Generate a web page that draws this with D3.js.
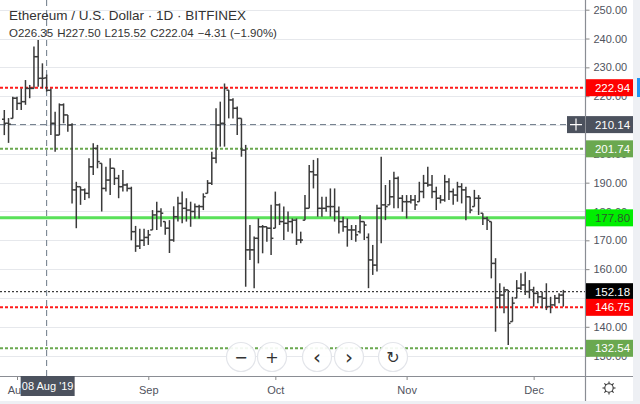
<!DOCTYPE html>
<html><head><meta charset="utf-8">
<script src="https://cdn.jsdelivr.net/npm/d3@7/dist/d3.min.js"></script>
<style>body{margin:0;background:#fff;overflow:hidden}svg{display:block}</style>
</head><body><svg id="c" width="640" height="404"></svg>
<script>
// ---------- data ----------
const startDate = "2019-07-29";
const opens = [212.0,210.6,212.3,219.3,217.5,218.1,222.7,222.7,233.7,226.2,226.35,222.04,210.6,206.5,217.0,213.5,210.0,187.5,188.6,187.5,
186.3,195.5,201.9,196.7,188.0,190.9,195.0,191.5,188.6,189.2,188.0,173.0,168.0,170.0,171.0,173.6,178.8,180.0,176.5,174.2,
170.1,178.2,182.8,181.1,180.5,180.0,181.7,181.7,186.3,189.8,198.5,210.0,210.6,222.1,218.7,215.8,212.3,201.3,166.7,166.7,
170.7,174.7,174.7,174.2,174.2,182.3,176.5,175.9,176.5,177.0,170.1,177.0,181.1,193.8,192.7,181.1,181.1,181.7,181.7,180.0,
176.5,174.7,173.6,173.6,173.0,176.5,171.0,163.2,161.4,181.1,182.3,182.3,185.1,191.5,184.6,183.4,183.4,184.0,183.4,186.9,
189.8,189.2,186.9,184.6,184.0,190.3,186.9,185.7,188.6,187.5,185.1,181.7,184.6,179.4,177.6,176.5,162.0,150.0,151.0,152.8,
141.8,150.0,153.4,154.5,152.2,152.8,151.6,150.4,149.9,147.0,147.6,149.9,151.0];
const highs = [215.2,212.4,219.8,219.8,222.7,225.6,223.9,237.2,239.5,231.4,227.5,222.7,214.6,217.5,217.5,213.5,210.6,190.3,188.6,188.0,
198.5,203.7,203.1,196.7,195.5,198.5,195.0,192.7,194.4,189.8,188.6,175.0,174.0,174.0,173.6,180.5,183.4,181.1,176.5,177.0,
181.8,185.1,186.9,184.6,183.4,182.8,182.3,186.3,190.9,200.7,215.8,218.1,224.4,222.1,219.3,216.4,212.3,203.1,175.3,171.3,
177.6,175.3,174.7,182.3,186.9,182.8,181.7,180.0,177.6,177.6,173.0,185.7,196.1,197.9,198.5,185.1,185.1,188.0,188.0,181.7,
178.2,177.6,175.3,175.3,178.8,176.5,172.4,168.4,182.3,199.0,189.2,190.9,193.8,192.1,185.7,185.7,185.7,185.7,190.3,192.7,
195.5,192.7,188.6,185.7,192.7,191.5,188.0,190.3,189.8,188.6,185.1,187.5,185.7,179.4,178.2,176.5,163.8,155.1,153.9,152.8,
150.4,156.2,158.6,159.1,156.2,153.9,152.2,152.2,155.1,150.4,151.0,151.6,152.8];
const lows = [206.5,203.8,212.3,215.2,215.2,217.0,219.3,222.7,223.3,222.7,221.6,206.5,200.7,206.5,210.6,207.7,182.8,174.2,182.3,184.0,
184.6,192.7,195.0,180.0,186.9,185.7,189.2,184.6,186.9,186.9,170.0,166.0,167.0,168.0,168.4,173.6,173.6,174.7,171.9,165.6,
169.5,176.5,175.9,176.5,174.7,177.6,177.6,180.5,186.3,189.2,196.7,202.5,202.5,212.3,212.3,206.5,199.0,153.9,163.2,153.4,
162.0,165.5,169.5,164.9,174.2,175.3,170.1,173.0,172.4,168.4,169.0,177.0,181.1,188.0,178.2,178.2,179.9,178.2,176.5,172.4,
173.0,167.8,170.1,169.5,172.4,170.1,153.4,158.0,159.2,169.0,177.0,182.3,181.1,181.1,179.9,177.6,182.8,180.5,183.4,184.6,
188.6,184.6,180.5,182.8,183.4,184.0,182.3,183.4,182.8,177.0,179.4,181.7,178.8,175.3,173.6,156.8,138.3,146.4,144.7,133.7,
141.8,149.9,152.8,151.0,149.9,147.0,148.2,146.4,145.8,144.7,147.0,148.2,147.0];
const closes = [210.6,210.3,219.3,217.5,218.1,222.7,222.7,233.7,226.2,226.2,222.04,210.6,206.5,217.0,213.5,210.0,187.5,188.6,187.5,186.3,
195.5,201.9,197.3,188.0,190.9,195.0,191.5,188.6,189.2,188.0,173.0,168.0,170.0,171.0,171.9,178.8,180.0,179.4,174.2,170.1,
178.2,182.8,181.1,180.5,180.0,181.7,181.7,185.1,189.8,198.5,210.0,210.6,222.7,218.7,215.8,212.3,201.3,166.7,166.7,170.7,
174.7,174.7,174.2,170.7,182.3,176.5,175.9,176.5,177.0,170.1,170.1,181.1,193.8,192.7,181.1,181.1,181.7,181.7,180.0,176.5,
174.7,173.6,173.6,171.9,176.5,175.3,163.2,161.4,181.1,182.3,181.7,185.1,191.5,184.6,183.4,183.4,184.0,182.3,186.9,189.8,
189.2,186.9,184.6,184.0,190.3,186.9,185.7,188.6,187.5,185.1,180.5,184.6,184.6,177.6,177.0,162.0,150.0,151.0,152.8,141.2,
148.2,153.4,154.5,152.2,152.8,151.6,150.4,149.9,147.0,147.6,149.9,151.0,152.18];

const gridValues = [130,140,150,160,170,180,190,200,210,220,230,240,250];
const yTickValues = [130,140,160,170,180,190,200,220,230,240,250]; // 150 and 210 sit fully under price labels
const monthLabels = ["Aug","Sep","Oct","Nov","Dec"];
const lineLevels = [222.94, 201.74, 177.80, 152.18, 146.75, 132.54];
const lineKinds  = ["red","green","lime","last","red","green"];
const crossPrice = 210.14;
const crossDate = "2019-08-08";
const title = "Ethereum / U.S. Dollar · 1D · BITFINEX";
const ohlcText = [["O","226.35"],["H","227.50"],["L","215.52"],["C","222.04"],["","−4.31 (−1.90%)"]];

// ---------- setup ----------
const W = 640, H = 404, plotR = 585.5, plotB = 376;
const parse = d3.utcParse("%Y-%m-%d");
const dates = d3.utcDay.range(parse(startDate), d3.utcDay.offset(parse(startDate), highs.length));
const bars = dates.map((d,i)=>({d, o:opens[i], h:highs[i], l:lows[i], c:closes[i]}));

const x = d3.scaleUtc().domain([dates[0], dates[dates.length-1]]).range([4.3, 563.3]);
const y = d3.scaleLinear().domain([140, 250]).range([326.8, 9.7]);

const svg = d3.select("#c");
const font = "'Liberation Sans', Arial, sans-serif";
svg.append("rect").attr("width",W).attr("height",H).attr("fill","#fff");

// grid
svg.append("g").selectAll("line").data(gridValues).join("line")
  .attr("x1",0).attr("x2",plotR).attr("y1",d=>Math.round(y(d))+0.5).attr("y2",d=>Math.round(y(d))+0.5)
  .attr("stroke","#e6e8ec").attr("stroke-width",1);

// level lines (under bars)
const styles = {
  red:   {stroke:"#ff1a1a", w:2, dash:"3,2", bg:"#ff0000", fg:"#fff"},
  green: {stroke:"#6aa84f", w:2, dash:"3,2", bg:"#6aa84f", fg:"#fff"},
  lime:  {stroke:"#3ddc3d", w:3, dash:null, bg:"#00ee00", fg:"#2a5a2a"},
  last:  {stroke:"#111", w:1, dash:"2,2", bg:"#000", fg:"#fff"}
};
const lvG = svg.append("g");
lineLevels.forEach((v,i)=>{
  const s = styles[lineKinds[i]];
  lvG.append("line").attr("x1",0).attr("x2",plotR).attr("y1",y(v)).attr("y2",y(v))
    .attr("stroke",s.stroke).attr("stroke-width",s.w).attr("stroke-dasharray",s.dash)
    .attr("opacity", lineKinds[i]==="lime"?0.85:1);
});
// crosshair lines
svg.append("line").attr("x1",0).attr("x2",plotR).attr("y1",y(crossPrice)).attr("y2",y(crossPrice))
  .attr("stroke","#6b7785").attr("stroke-width",1).attr("stroke-dasharray","6,4");
svg.append("line").attr("x1",x(parse(crossDate))).attr("x2",x(parse(crossDate))).attr("y1",0).attr("y2",plotB)
  .attr("stroke","#6b7785").attr("stroke-width",1).attr("stroke-dasharray","6,4");

// bars
const bg = svg.append("g").attr("stroke","#3a3a3a").attr("stroke-width",1.5);
bars.forEach(b=>{
  const cx = x(b.d);
  bg.append("line").attr("x1",cx).attr("x2",cx).attr("y1",y(b.h)).attr("y2",y(b.l));
  bg.append("line").attr("x1",cx-2.3).attr("x2",cx).attr("y1",y(b.o)).attr("y2",y(b.o));
  bg.append("line").attr("x1",cx).attr("x2",cx+2.3).attr("y1",y(b.c)).attr("y2",y(b.c));
});

// header
const hdr = svg.append("g").attr("font-family",font);
hdr.append("text").attr("x",9).attr("y",20).attr("font-size",13.5).attr("fill","#333").text(title);
const t2 = hdr.append("text").attr("x",9).attr("y",36.5).attr("font-size",11.5).attr("fill","#333");
ohlcText.forEach((p,i)=>{ t2.append("tspan").attr("dx", i? 4:0).text(p[0]+p[1]); });

// nav buttons
const btns = [["−",241],["+",272],["‹",317],["›",349],["↻",393]];
const bgr = svg.append("g");
btns.forEach(b=>{
  bgr.append("circle").attr("cx",b[1]).attr("cy",357).attr("r",14.5).attr("fill","#fff").attr("fill-opacity",0.92)
    .attr("stroke","#e3e5ea").attr("stroke-width",1.2);
  bgr.append("text").attr("x",b[1]).attr("y",357).attr("dy","0.36em").attr("text-anchor","middle")
    .attr("font-family","'DejaVu Sans', sans-serif").attr("font-size", b[0]==="‹"||b[0]==="›"?20:16).attr("fill","#333").text(b[0]);
});

// right axis panel
svg.append("rect").attr("x",plotR).attr("y",0).attr("width",W-plotR).attr("height",H).attr("fill","#fff");
svg.append("rect").attr("x",633).attr("y",0).attr("width",7).attr("height",H).attr("fill","#eef0f4");
svg.append("rect").attr("x",637).attr("y",78).attr("width",3).attr("height",19).attr("fill","#2196f3");
const yAxis = d3.axisRight(y).tickValues(yTickValues).tickSize(4).tickPadding(4).tickFormat(d3.format(".2f"));
const ya = svg.append("g").attr("transform",`translate(${plotR},0)`).call(yAxis);
ya.select(".domain").remove();
ya.selectAll(".tick line").attr("stroke","#888");
ya.selectAll(".tick text").attr("font-family",font).attr("font-size",11).attr("fill","#50535e");

// bottom axis
svg.append("rect").attr("x",0).attr("y",plotB).attr("width",plotR).attr("height",H-plotB).attr("fill","#fff");
const xAxis = d3.axisBottom(x).ticks(d3.utcMonth.every(1)).tickSize(4).tickPadding(6)
  .tickFormat((d,i)=>monthLabels[d.getUTCMonth()-7]);
const xa = svg.append("g").attr("transform",`translate(0,${plotB})`).call(xAxis);
xa.select(".domain").remove();
xa.selectAll(".tick line").attr("stroke","#888");
xa.selectAll(".tick text").attr("font-family",font).attr("font-size",11).attr("fill","#50535e");

// borders
svg.append("line").attr("x1",0).attr("x2",633).attr("y1",plotB+0.5).attr("y2",plotB+0.5).attr("stroke","#8a8d94").attr("stroke-width",1.2);
svg.append("line").attr("x1",plotR).attr("x2",plotR).attr("y1",0).attr("y2",H).attr("stroke","#8a8d94").attr("stroke-width",1.2);
svg.append("rect").attr("x",0).attr("y",401).attr("width",633).attr("height",3).attr("fill","#eef0f4");

// price labels
function priceLabel(v, bgc, fgc){
  const g = svg.append("g");
  g.append("rect").attr("x",plotR+0.5).attr("y",y(v)-8.5).attr("width",47).attr("height",17).attr("fill",bgc);
  g.append("text").attr("x",plotR+27).attr("y",y(v)).attr("dy","0.36em").attr("text-anchor","middle")
    .attr("font-family",font).attr("font-size",11.5).attr("fill",fgc).text(d3.format(".2f")(v));
}
lineLevels.forEach((v,i)=>{ const s=styles[lineKinds[i]]; priceLabel(v,s.bg,s.fg); });
priceLabel(crossPrice,"#4c525e","#fff");
// crosshair plus box
svg.append("rect").attr("x",567).attr("y",y(crossPrice)-8.5).attr("width",18).attr("height",17).attr("fill","#4c525e");
svg.append("path").attr("d",`M570,${y(crossPrice)}h12M576,${y(crossPrice)-6}v12`).attr("stroke","#fff").attr("stroke-width",1.2);

// date label
const cdx = x(parse(crossDate));
svg.append("rect").attr("x",cdx-26).attr("y",plotB).attr("width",54).attr("height",20).attr("fill","#4c525e");
svg.append("text").attr("x",cdx+1).attr("y",plotB+10).attr("dy","0.36em").attr("text-anchor","middle")
  .attr("font-family",font).attr("font-size",11).attr("fill","#fff").text("08 Aug '19");

// gear icon
const gear = svg.append("g").attr("transform","translate(609,388)").attr("stroke","#333").attr("fill","none").attr("stroke-width",1.1);
gear.append("circle").attr("r",4.2);
d3.range(8).forEach(k=>{ const a=k*Math.PI/4; gear.append("line")
  .attr("x1",Math.cos(a)*4.2).attr("y1",Math.sin(a)*4.2).attr("x2",Math.cos(a)*6.5).attr("y2",Math.sin(a)*6.5); });
</script></body></html>
